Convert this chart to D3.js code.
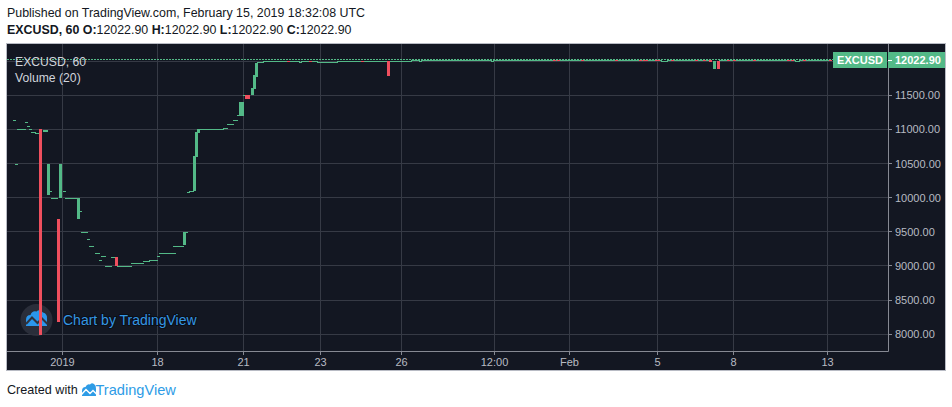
<!DOCTYPE html>
<html><head><meta charset="utf-8">
<script src="https://cdn.jsdelivr.net/npm/d3@7/dist/d3.min.js"></script>
<style>
html,body{margin:0;padding:0;background:#fff;}
svg{display:block;}
</style></head>
<body>
<svg id="chart" width="952" height="407"></svg>
<script>
// ---------- DATA ----------
const symbol = "EXCUSD";
const interval = "60";
const lastPrice = 12022.90;
const publishedText = "Published on TradingView.com, February 15, 2019 18:32:08 UTC";

// hourly bars (bar index, number of identical consecutive bars, open, close)
const barStart = [3,4,5,9,10,11,12,14,16,18,20,21,22,25,26,28,29,35,36,37,40,41,44,46,47,49,52,54,55,62,68,71,75,76,83,88,89,90,91,93,94,95,96,108,110,113,115,116,118,119,122,123,124,125,126,
  128,140,141,146,147,151,152,155,165,177,178,190,191,
  202,206,207,242,243,273,274,275,276,287,288,304,305,316,317,318,320,324,326,327,330,332,333,344,345,348,349,351,353,355,356,360,361,363,364,373,374,390,391,392,393,394,396,398,399,411];
const barCount = [1,1,4,1,1,1,2,2,1,2,1,1,3,1,1,1,6,1,1,3,1,2,2,1,2,3,2,1,7,6,3,4,1,8,5,1,1,1,2,1,1,1,12,2,3,2,1,2,1,2,1,1,1,1,2,
  12,1,5,1,4,1,3,10,12,1,12,1,11,
  4,1,35,1,30,1,1,1,11,1,16,1,11,1,1,2,4,2,1,3,2,1,11,1,3,1,2,1,1,1,4,1,2,1,9,1,16,1,1,1,1,2,2,1,12,1];
const barOpen = [11132,10500,11000,11107,11044,11000,10956,10941,11000,10956,10038,10103,10000,9691,10000,10103,10000,9691,9798,9500,9397,9294,9191,9088,9147,9000,9132,9132,9000,9044,9074,9088,9147,9191,9294,9309,9500,10088,10103,10103,10597,10946,11000,11015,11074,11132,11206,11196,11500,11500,11500,11597,11766,11966,11990,
  11996,12003,11996,11982,11996,12003,11996,11982,11996,12003,11996,11996,11996,
  12012,12001,12012,12001,12012,12020,12012,12020,12012,12020,12012,12020,12012,12020,12012,12020,12012,12020,12012,12001,12012,12020,12012,12020,12012,12020,12012,12008,11885,12001,12012,12020,12012,12020,12012,12020,12012,12020,12012,12020,12012,12001,12012,12020,12012,12020];
const barClose = [11132,10500,11000,11107,11044,11000,10956,10941,7985,10985,10500,10103,10000,8186,10500,10103,10000,10000,9798,9500,9397,9294,9191,9088,9147,9000,9132,9000,9000,9044,9074,9088,9147,9191,9294,9500,9500,10088,10103,10607,10960,11000,11000,11015,11074,11132,11206,11401,11500,11446,11607,11798,11971,11990,11990,
  11996,11990,11996,11990,11996,11990,11996,11982,11996,11990,11996,11781,11996,
  12012,12001,12012,12001,12012,11998,12012,11998,12012,11998,12012,11998,12012,11998,12012,11998,12012,11998,12012,12001,12012,11998,12012,11998,12012,11998,12012,11985,12001,11880,12012,11998,12012,11998,12012,11998,12012,11998,12012,11998,12012,12001,12012,11998,12012,11998];

const priceTicks = [8000,8500,9000,9500,10000,10500,11000,11500,12000];
const timeTickIdx = [27,74.5,117.5,156,196.5,243,280.5,324.5,362.5,409.5];
const timeTickLabels = ["2019","18","21","23","26","12:00","Feb","5","8","13"];

// ---------- STYLE ----------
const BG = "#131722", GRID = "#363a45", AXIS = "#868993", TXT = "#b8bbc3";
const UP = "#53b987", DOWN = "#ef4f5e";
const FONT = "'Liberation Sans', Arial, sans-serif";

const svg = d3.select("#chart");
const frame = {x0: 6, y0: 43, x1: 946, y1: 371};
const plot = {left: 7, right: 888, top: 44, bottom: 351};

const x = d3.scaleLinear().domain([0, 440.5]).range([plot.left, plot.right]);
const y = d3.scaleLinear().domain([8000, 11500]).range([334.3, 95.2]);

// header
const hdr = svg.append("g").attr("font-family", FONT).attr("fill", "#131722");
hdr.append("text").attr("x", 7).attr("y", 17).attr("font-size", 12.4).text(publishedText);
const l2 = hdr.append("text").attr("x", 7).attr("y", 34).attr("font-size", 12.4);
l2.append("tspan").attr("font-weight", "bold").text(`${symbol}, ${interval} `);
["O","H","L","C"].forEach((k, i) => {
  l2.append("tspan").attr("font-weight", "bold").text((i ? " " : "") + k + ":");
  l2.append("tspan").text(lastPrice.toFixed(2));
});

// frame
svg.append("rect").attr("x", frame.x0 + 0.5).attr("y", frame.y0 + 0.5)
  .attr("width", frame.x1 - frame.x0 - 1).attr("height", frame.y1 - frame.y0 - 1)
  .attr("fill", BG).attr("stroke", "#b8bbc4");

// clip
svg.append("clipPath").attr("id", "pc").append("rect")
  .attr("x", plot.left).attr("y", plot.top).attr("width", plot.right - plot.left).attr("height", plot.bottom - plot.top);

// grid
const grid = svg.append("g").attr("stroke", GRID).attr("shape-rendering", "crispEdges");
priceTicks.forEach(p => {
  const yy = Math.floor(y(p)) + 0.5;
  grid.append("line").attr("x1", plot.left).attr("x2", plot.right).attr("y1", yy).attr("y2", yy);
});
timeTickIdx.forEach(t => {
  const xx = Math.floor(x(t) + 1.5) + 0.5;
  grid.append("line").attr("x1", xx).attr("x2", xx).attr("y1", plot.top).attr("y2", plot.bottom);
});

// watermark
const wm = svg.append("g");
wm.append("circle").attr("cx", 36.5).attr("cy", 320).attr("r", 16).attr("fill", "#2f333e").attr("fill-opacity", 0.85);
wm.append("path").attr("d", "M26,326 L26,320 Q26,315 30.5,315 Q32,310.5 36.5,311.5 Q39.5,308.5 43,312.5 Q47.5,313.5 47,319 L47,326 Z").attr("fill", "#2a96ec");
wm.append("path").attr("d", "M26,324 L32,317.5 L37.5,323 L42,318.5 L47.5,324").attr("fill", "none").attr("stroke", "#2f333e").attr("stroke-width", 2);
wm.append("text").attr("x", 63).attr("y", 324.5).attr("font-family", FONT).attr("font-size", 14)
  .attr("fill", "#3597e4").attr("stroke", "#0b0e16").attr("stroke-width", 2).attr("paint-order", "stroke")
  .text("Chart by TradingView");

// candles
const bars = barStart.map((t, i) => ({t, n: barCount[i], o: barOpen[i], c: barClose[i]}));
const cg = svg.append("g").attr("clip-path", "url(#pc)").attr("shape-rendering", "crispEdges");
const ordered = bars.filter(b => b.c >= b.o).concat(bars.filter(b => b.c < b.o));
cg.selectAll("rect").data(ordered).join("rect")
  .attr("x", d => x(d.t))
  .attr("width", d => x(d.t + d.n) - x(d.t) + 1)
  .attr("y", d => y(Math.max(d.o, d.c)))
  .attr("height", d => Math.max(1, Math.abs(y(d.o) - y(d.c))))
  .attr("fill", d => d.c >= d.o ? UP : DOWN);

// last price line
const yl = Math.floor(y(lastPrice)) + 0.5;
svg.append("line").attr("x1", plot.left).attr("x2", 833).attr("y1", yl).attr("y2", yl)
  .attr("stroke", UP).attr("stroke-dasharray", "2,1").attr("shape-rendering", "crispEdges");

// legend
const lg = svg.append("g").attr("font-family", FONT).attr("font-size", 12.2).attr("fill", "#d1d4dc");
lg.append("text").attr("x", 15).attr("y", 65.5).text(`${symbol}, ${interval}`);
lg.append("text").attr("x", 15).attr("y", 82).text("Volume (20)");

// axes borders
svg.append("line").attr("x1", plot.right + 0.5).attr("x2", plot.right + 0.5).attr("y1", frame.y0 + 1).attr("y2", plot.bottom + 0.5).attr("stroke", AXIS);
svg.append("line").attr("x1", frame.x0 + 1).attr("x2", plot.right + 0.5).attr("y1", plot.bottom + 0.5).attr("y2", plot.bottom + 0.5).attr("stroke", AXIS);

// price axis
const yTag = y(lastPrice);
const pa = svg.append("g").attr("font-family", FONT).attr("font-size", 11);
priceTicks.filter(p => Math.abs(y(p) - yTag) > 12).forEach(p => {
  const yy = Math.floor(y(p)) + 0.5;
  pa.append("line").attr("x1", plot.right).attr("x2", plot.right + 4).attr("y1", yy).attr("y2", yy).attr("stroke", AXIS);
  pa.append("text").attr("x", 895).attr("y", y(p) + 4).attr("fill", TXT).text(p.toFixed(2));
});

// time axis
const ta = svg.append("g").attr("font-family", FONT).attr("font-size", 11).attr("fill", TXT).attr("text-anchor", "middle");
timeTickIdx.forEach((t, i) => {
  const xx = Math.floor(x(t) + 1.5) + 0.5;
  svg.append("line").attr("x1", xx).attr("x2", xx).attr("y1", plot.bottom).attr("y2", plot.bottom + 4).attr("stroke", AXIS);
  ta.append("text").attr("x", xx).attr("y", 366).text(timeTickLabels[i]);
});

// price tags
svg.append("rect").attr("x", 833).attr("y", 52).attr("width", 54).attr("height", 16).attr("fill", UP);
svg.append("text").attr("x", 860).attr("y", 64).attr("text-anchor", "middle").attr("font-family", FONT)
  .attr("font-size", 11).attr("font-weight", "bold").attr("fill", "#fff").text(symbol);
svg.append("rect").attr("x", 888).attr("y", 52).attr("width", 57).attr("height", 16).attr("fill", UP);
svg.append("line").attr("x1", 888).attr("x2", 892).attr("y1", 60.5).attr("y2", 60.5).attr("stroke", "#fff");
svg.append("text").attr("x", 895).attr("y", 64).attr("font-family", FONT).attr("font-size", 11)
  .attr("font-weight", "bold").attr("fill", "#fff").text(lastPrice.toFixed(2));

// footer
const ft = svg.append("g").attr("font-family", FONT);
ft.append("text").attr("x", 7).attr("y", 394).attr("font-size", 12.6).attr("fill", "#131722").text("Created with");
ft.append("path").attr("d", "M82,396 L82,391 Q82,387 85.5,387 Q87,383.5 90,384.5 Q92.5,382 95,385 Q96,386 96,389 L96,396 Z").attr("fill", "#2e9ce6");
ft.append("path").attr("d", "M81.5,394.5 L86,389.5 L90,393.5 L93,390.5 L96.5,394").attr("fill", "none").attr("stroke", "#fff").attr("stroke-width", 1.4);
ft.append("text").attr("x", 95.5).attr("y", 394.5).attr("font-size", 14.6).attr("fill", "#2e9ce6").text("TradingView");
</script>
</body></html>
